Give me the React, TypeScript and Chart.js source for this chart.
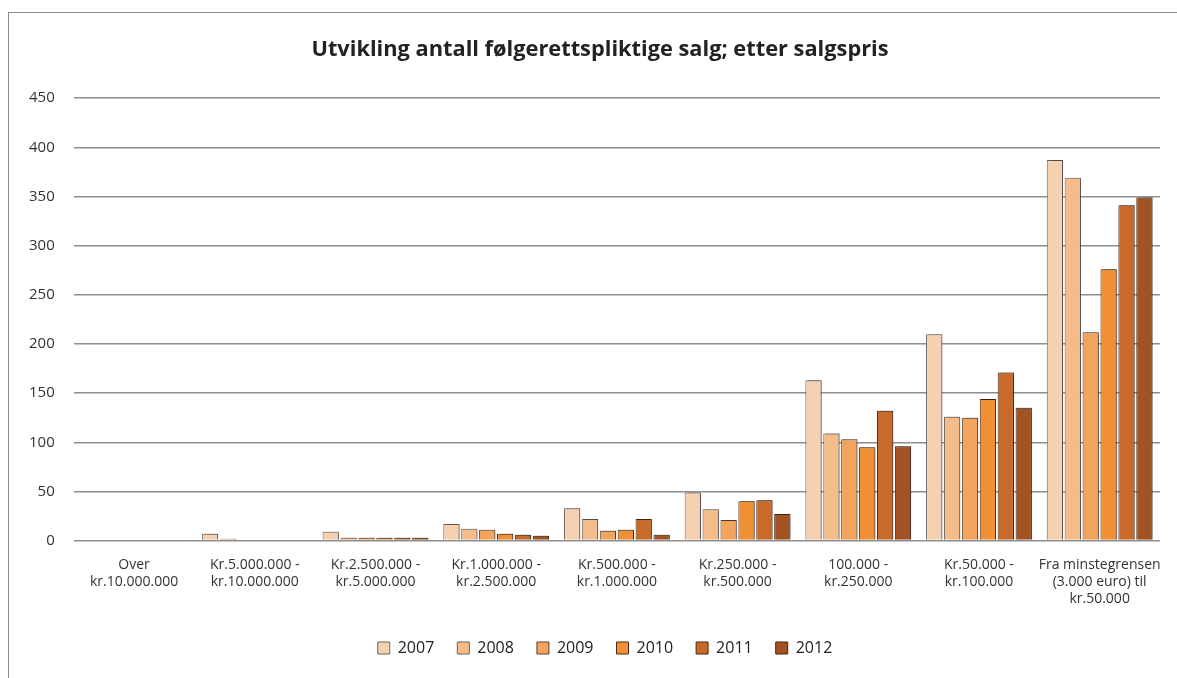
import React, { useEffect, useRef } from "react";
import { Chart, registerables } from "chart.js";

Chart.register(...registerables);

const categories: string[][] = [
  ["Over", "kr.10.000.000"],
  ["Kr.5.000.000 -", "kr.10.000.000"],
  ["Kr.2.500.000 -", "kr.5.000.000"],
  ["Kr.1.000.000 -", "kr.2.500.000"],
  ["Kr.500.000 -", "kr.1.000.000"],
  ["Kr.250.000 -", "kr.500.000"],
  ["100.000 -", "kr.250.000"],
  ["Kr.50.000 -", "kr.100.000"],
  ["Fra minstegrensen", "(3.000 euro) til", "kr.50.000"],
];

const years = ["2007", "2008", "2009", "2010", "2011", "2012"];

const v2007 = [0, 7, 9, 17, 33, 49, 163, 210, 387];
const v2008 = [0, 2, 3, 12, 22, 32, 109, 126, 369];
const v2009 = [0, 0, 3, 11, 10, 21, 103, 125, 212];
const v2010 = [0, 0, 3, 7, 11, 40, 95, 144, 276];
const v2011 = [0, 0, 3, 6, 22, 41, 132, 171, 341];
const v2012 = [0, 0, 3, 5, 6, 27, 96, 135, 349];

const yTicks = [0, 50, 100, 150, 200, 250, 300, 350, 400, 450];

const fills = ["#F5D0B1", "#F4BB8B", "#F2A35C", "#F08F34", "#C86A29", "#A15324"];
const borders = ["#6e625c", "#6e625c", "#5a4030", "#4a2c18", "#4a2814", "#4a2410"];

const FONT = "'Open Sans', 'Liberation Sans', sans-serif";

const shadowPlugin = {
  id: "barShadow",
  beforeDatasetDraw(chart: any) {
    const ctx = chart.ctx;
    ctx.save();
    ctx.shadowColor = "rgba(0,0,0,0.28)";
    ctx.shadowOffsetX = 2;
    ctx.shadowOffsetY = -1;
    ctx.shadowBlur = 1;
  },
  afterDatasetDraw(chart: any) {
    chart.ctx.restore();
  },
};

const shiftPlugin = {
  id: "shiftBoxes",
  afterLayout(chart: any) {
    if (chart.legend) {
      chart.legend.left += 20;
      chart.legend.right += 20;
    }
    if (chart.titleBlock) {
      chart.titleBlock.left += 15;
      chart.titleBlock.right += 15;
    }
  },
};

export default function App() {
  const ref = useRef<HTMLCanvasElement | null>(null);
  useEffect(() => {
    if (!ref.current) return;
    const series = [v2007, v2008, v2009, v2010, v2011, v2012];
    const chart = new Chart(ref.current, {
      type: "bar",
      data: {
        labels: categories,
        datasets: series.map((d, i) => ({
          label: years[i],
          data: d,
          backgroundColor: fills[i],
          borderColor: borders[i],
          borderWidth: 1,
          categoryPercentage: 0.89,
          barPercentage: 0.91,
        })),
      },
      options: {
        animation: false,
        responsive: false,
        layout: { padding: { left: 10, right: 17, top: 0, bottom: 12 } },
        plugins: {
          title: {
            display: true,
            text: "Utvikling antall følgerettspliktige salg; etter salgspris",
            color: "#222",
            font: { family: FONT, size: 21.8, weight: "bold" },
            padding: { top: 37, bottom: 35 },
          },
          legend: {
            position: "bottom",
            labels: {
              color: "#222",
              font: { family: FONT, size: 16 },
              boxWidth: 12,
              boxHeight: 12,
              padding: 23,
            },
          },
          tooltip: { enabled: false },
        },
        scales: {
          x: {
            grid: { display: false },
            border: { display: false },
            afterFit: (axis: any) => {
              axis.height += 2;
            },
            ticks: {
              color: "#333",
              font: { family: FONT, size: 14 },
              padding: 8,
              maxRotation: 0,
              autoSkip: false,
            },
          },
          y: {
            min: 0,
            max: 450,
            afterBuildTicks: (axis: any) => {
              axis.ticks = yTicks.map((v) => ({ value: v }));
            },
            grid: { color: "#8e8e8e", lineWidth: 1.5, drawTicks: false },
            border: { display: false },
            ticks: {
              color: "#333",
              font: { family: FONT, size: 15 },
              padding: 19,
            },
          },
        },
      },
      plugins: [shadowPlugin, shiftPlugin],
    });
    return () => chart.destroy();
  }, []);

  return (
    <div style={{ position: "fixed", left: 0, top: 0, width: 1177, height: 678, overflow: "hidden", background: "#fff" }}>
      <div
        style={{
          position: "absolute",
          left: 8,
          top: 12,
          width: 1300,
          height: 800,
          border: "1px solid #8c8c8c",
        }}
      />
      <canvas ref={ref} width={1177} height={678} style={{ position: "absolute", left: 0, top: 0 }} />
    </div>
  );
}
